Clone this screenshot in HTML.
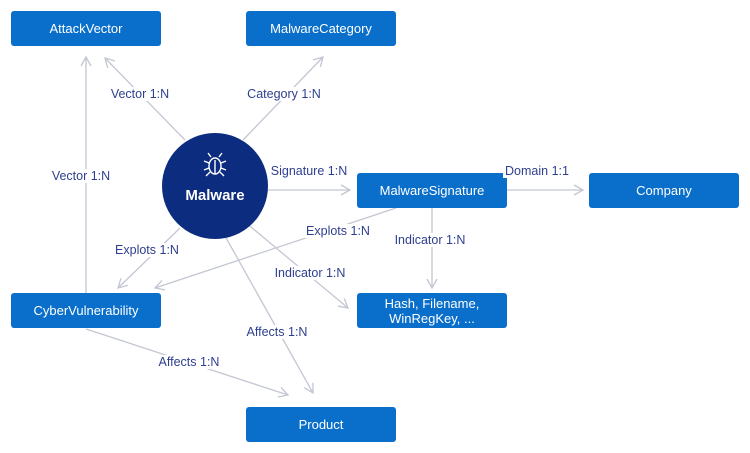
<!DOCTYPE html>
<html><head><meta charset="utf-8"><style>
body{margin:0;background:#fff;width:750px;height:453px;overflow:hidden;position:relative;font-family:"Liberation Sans",sans-serif}
.b{position:absolute;width:150px;height:35px;background:#0a6fcb;border-radius:3px;color:#fff;font-size:13px;display:flex;align-items:center;justify-content:center;text-align:center;line-height:15px}
.l{position:absolute;font-size:12.5px;color:#2e3f8f;background:#fff;padding:0 2px;white-space:nowrap;transform:translate(-50%,-50%)}
</style></head><body>
<svg width="750" height="453" style="position:absolute;left:0;top:0">
<defs><marker id="a" markerWidth="12" markerHeight="12" refX="10" refY="6" orient="auto" markerUnits="userSpaceOnUse"><path d="M1,1 L10,6 L1,11" fill="none" stroke="#c3c7d3" stroke-width="1.3"/></marker></defs>
<g stroke="#c3c7d3" stroke-width="1.3" fill="none" marker-end="url(#a)">
<line x1="185" y1="140" x2="105" y2="58"/>
<line x1="243" y1="140" x2="323" y2="57"/>
<line x1="268" y1="190" x2="350" y2="190"/>
<line x1="507" y1="190" x2="583" y2="190"/>
<line x1="432" y1="208" x2="432" y2="288"/>
<line x1="396" y1="208" x2="155" y2="288"/>
<line x1="180" y1="228" x2="118" y2="288"/>
<line x1="245" y1="222" x2="348" y2="308"/>
<line x1="225" y1="236" x2="313" y2="393"/>
<line x1="86" y1="293" x2="86" y2="57"/>
<line x1="86" y1="329" x2="288" y2="395"/>
</g>
<circle cx="215" cy="186" r="53" fill="#0c2c7f"/>
<g stroke="#fff" stroke-width="1.4" fill="none">
<ellipse cx="215" cy="166" rx="6" ry="8"/><line x1="215" y1="160" x2="215" y2="174"/>
<path d="M211,157 L208,153 M219,157 L222,153 M209,163 L204,161 M221,163 L226,161 M209,168 L204,170 M221,168 L226,170 M210,172 L206,176 M220,172 L224,176"/>
</g>
<text x="215" y="200" fill="#fff" font-size="15" font-weight="bold" text-anchor="middle" font-family="Liberation Sans, sans-serif">Malware</text>
</svg>
<div class="b" style="left:11px;top:11px">AttackVector</div>
<div class="b" style="left:246px;top:11px">MalwareCategory</div>
<div class="b" style="left:357px;top:173px">MalwareSignature</div>
<div class="b" style="left:589px;top:173px">Company</div>
<div class="b" style="left:11px;top:293px">CyberVulnerability</div>
<div class="b" style="left:357px;top:293px">Hash, Filename,<br>WinRegKey, ...</div>
<div class="b" style="left:246px;top:407px">Product</div>
<div class="l" style="left:140px;top:94px">Vector 1:N</div>
<div class="l" style="left:284px;top:94px">Category 1:N</div>
<div class="l" style="left:81px;top:176px">Vector 1:N</div>
<div class="l" style="left:309px;top:171px">Signature 1:N</div>
<div class="l" style="left:537px;top:171px">Domain 1:1</div>
<div class="l" style="left:430px;top:240px">Indicator 1:N</div>
<div class="l" style="left:338px;top:231px">Explots 1:N</div>
<div class="l" style="left:147px;top:250px">Explots 1:N</div>
<div class="l" style="left:310px;top:273px">Indicator 1:N</div>
<div class="l" style="left:277px;top:332px">Affects 1:N</div>
<div class="l" style="left:189px;top:362px">Affects 1:N</div>
</body></html>
